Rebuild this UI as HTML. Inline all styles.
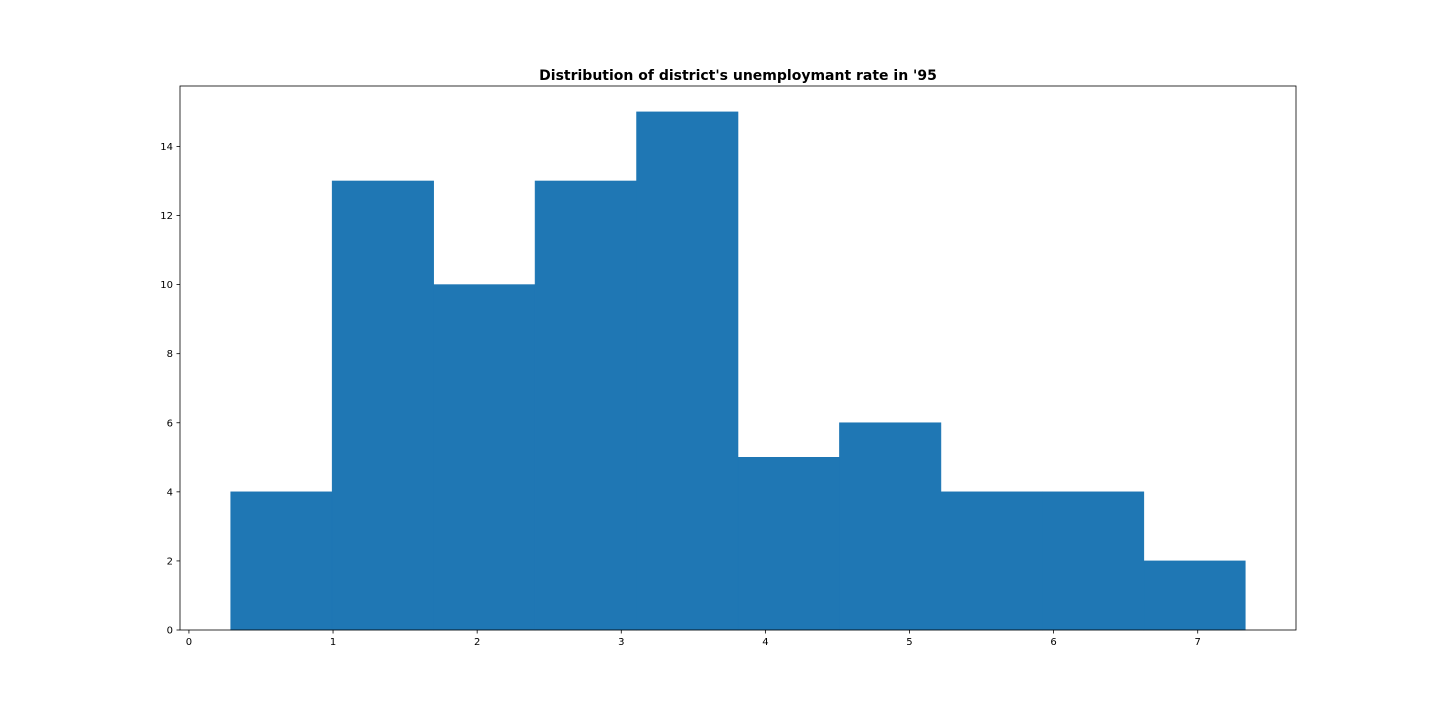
<!DOCTYPE html>
<html>
<head>
<meta charset="utf-8">
<style>
html,body{margin:0;padding:0;background:#fff;}
svg{display:block;font-family:"DejaVu Sans","Liberation Sans",sans-serif;}
</style>
</head>
<body>
<svg id="chart" width="1440" height="720" viewBox="0 0 1440 720">
<rect x="0" y="0" width="1440" height="720" fill="#fff"/>
<text x="738" y="80" text-anchor="middle" font-size="14" font-weight="bold" fill="#000">Distribution of district's unemploymant rate in '95</text>
<g id="bars"></g>
<g id="xticks"></g>
<g id="yticks"></g>
<rect x="180" y="86" width="1116" height="544" fill="none" stroke="#000" stroke-width="0.8"/>
</svg>
<script>
const binStart = 0.29;
const binEnd = 7.33;
const counts = [4, 13, 10, 13, 15, 5, 6, 4, 4, 2];
const xTickValues = [0, 1, 2, 3, 4, 5, 6, 7];
const yTickValues = [0, 2, 4, 6, 8, 10, 12, 14];

const NS = "http://www.w3.org/2000/svg";
const L = 180, R = 1296, T = 86, B = 630;
const range = binEnd - binStart;
const xMin = binStart - range * 0.05, xMax = binEnd + range * 0.05;
const yMax = Math.max(...counts) * 1.05;
const xs = v => L + (v - xMin) / (xMax - xMin) * (R - L);
const ys = v => B - v / yMax * (B - T);

const bars = document.getElementById('bars');
const w = range / counts.length;
counts.forEach((c, i) => {
  const x0 = xs(binStart + i * w), x1 = xs(binStart + (i + 1) * w);
  const r = document.createElementNS(NS, 'rect');
  r.setAttribute('x', x0);
  r.setAttribute('y', ys(c));
  r.setAttribute('width', x1 - x0);
  r.setAttribute('height', B - ys(c));
  r.setAttribute('fill', '#1f77b4');
  r.setAttribute('stroke', '#1f77b4');
  r.setAttribute('stroke-width', '0.6');
  
  
  bars.appendChild(r);
});

const xg = document.getElementById('xticks');
xTickValues.forEach(v => {
  const x = xs(v);
  const l = document.createElementNS(NS, 'line');
  l.setAttribute('x1', x); l.setAttribute('x2', x);
  l.setAttribute('y1', B); l.setAttribute('y2', B + 3.5);
  l.setAttribute('stroke', '#000'); l.setAttribute('stroke-width', '0.8');
  
  
  xg.appendChild(l);
  const t = document.createElementNS(NS, 'text');
  t.setAttribute('x', x); t.setAttribute('y', B + 15);
  t.setAttribute('text-anchor', 'middle'); t.setAttribute('font-size', '10');
  t.textContent = v;
  
  
  xg.appendChild(t);
});

const yg = document.getElementById('yticks');
yTickValues.forEach(v => {
  const y = ys(v);
  const l = document.createElementNS(NS, 'line');
  l.setAttribute('x1', L - 3.5); l.setAttribute('x2', L);
  l.setAttribute('y1', y); l.setAttribute('y2', y);
  l.setAttribute('stroke', '#000'); l.setAttribute('stroke-width', '0.8');
  
  
  yg.appendChild(l);
  const t = document.createElementNS(NS, 'text');
  t.setAttribute('x', L - 7); t.setAttribute('y', y + 3.5);
  t.setAttribute('text-anchor', 'end'); t.setAttribute('font-size', '10');
  t.textContent = v;
  
  
  yg.appendChild(t);
});
</script>
</body>
</html>
